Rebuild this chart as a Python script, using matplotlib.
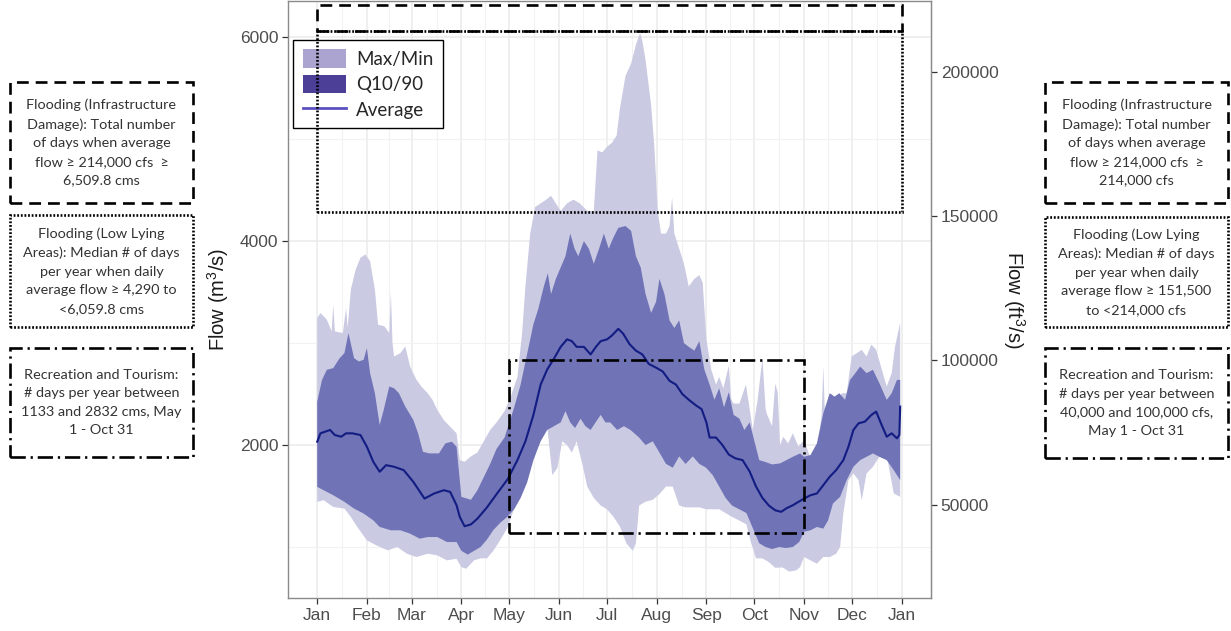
import numpy as np
import matplotlib
matplotlib.use("Agg")
import matplotlib.pyplot as plt
from matplotlib.patches import Rectangle, Patch
from matplotlib.lines import Line2D

# ---------------- data (day of year, flow in m3/s) ----------------
avg_day = [0, 2, 8, 11, 15, 18, 22, 27, 31, 35, 39, 43, 48, 54, 60, 67, 73, 79, 83, 87,
           89, 92, 96, 100, 106, 112, 119, 125, 130, 135, 139.5, 143.6, 148, 152, 156, 159,
           162, 166.5, 170.7, 174, 177, 181, 184, 188, 191, 195, 199, 203, 207, 211.6, 215.7,
           220, 224, 228, 232, 236.5, 240, 243, 245, 249, 253, 257, 261, 265.6, 270, 274, 278,
           282, 286, 289.7, 293, 297, 300.5, 304, 308, 312, 316, 320, 324, 328.5, 331.7, 334.8,
           338, 342, 346, 349, 352, 355.6, 358.7, 362, 363.5, 364]
avg_val = [2033, 2115, 2148, 2098, 2082, 2115, 2115, 2098, 1984, 1836, 1738, 1803, 1787, 1754,
           1639, 1475, 1525, 1557, 1541, 1410, 1296, 1204, 1222, 1278, 1389, 1519, 1667, 1852,
           2037, 2296, 2593, 2741, 2852, 2963, 3037, 3019, 2963, 2963, 2889, 2963, 3019, 3037,
           3074, 3140, 3093, 2990, 2926, 2889, 2796, 2759, 2722, 2630, 2593, 2500, 2444, 2389,
           2352, 2222, 2074, 2074, 2000, 1907, 1870, 1852, 1741, 1593, 1481, 1407, 1360, 1345,
           1380, 1410, 1443, 1475, 1508, 1525, 1607, 1689, 1754, 1852, 1984, 2148, 2213, 2230,
           2295, 2328, 2213, 2082, 2115, 2066, 2100, 2377]

max_day = [0, 2, 6, 9, 10, 11, 16, 18, 19, 21, 24, 27, 30, 33, 36, 38, 42, 45, 46, 47, 48, 52,
           55, 58, 62, 65, 69, 72, 75, 79, 83, 87, 89, 92, 96, 100, 104, 108, 112, 117, 121, 125,
           128, 130, 133, 136, 139.5, 143, 146, 149, 152, 156, 160, 164, 168.6, 172.7, 175, 178,
           181, 184, 187, 189, 192.5, 196, 199, 201.6, 203, 205, 208.5, 210.5, 212.6, 214.7,
           217.8, 220, 221.6, 223, 226, 229, 232, 235.5, 238.6, 240.7, 243, 246, 249, 251, 253.6,
           257, 258.5, 260, 263.6, 267.7, 272, 275, 278, 280, 281, 284, 286, 287.5, 289, 291,
           294, 297, 300.5, 304, 307.7, 312, 315, 316, 317, 318, 321, 324, 327.5, 330.6, 333.7,
           337, 340, 343, 346, 349, 352, 355.6, 358.7, 360.8, 364]
max_val = [3246, 3295, 3230, 3115, 3377, 3115, 3098, 3344, 3150, 3525, 3721, 3836, 3869, 3803,
           3525, 3180, 3164, 3098, 3492, 3000, 2869, 2902, 2967, 2770, 2639, 2574, 2508, 2443,
           2344, 2246, 2180, 2115, 1852, 1836, 1889, 1926, 2037, 2148, 2222, 2333, 2481, 2667,
           3111, 3556, 4074, 4333, 4370, 4407, 4444, 4370, 4296, 4370, 4407, 4370, 4296, 4296,
           4889, 4870, 4926, 4963, 5037, 5300, 5620, 5741, 5926, 6040, 5963, 5778, 5333, 4926,
           4296, 4074, 4074, 4148, 4426, 4074, 3926, 3778, 3556, 3630, 3667, 3593, 3037, 2741,
           2593, 2667, 2556, 2778, 2450, 2407, 2407, 2593, 2148, 2444, 2852, 2350, 2296, 2185,
           2600, 2519, 2000, 2082, 2016, 2115, 1984, 2049, 1885, 1918, 2300, 2770, 2300, 2180,
           2508, 2377, 2508, 2508, 2869, 2902, 2934, 2869, 2984, 2934, 2770, 2574, 2705, 2967,
           3197]

q90_day = [0, 3, 6, 10, 14, 17, 19.5, 23, 26, 29, 31, 33, 36, 39, 41.5, 45, 48, 51, 55, 60, 63,
           66, 70, 76, 80, 84, 87, 90, 96, 100, 104, 108, 112, 117, 120, 123, 127, 131, 135, 138,
           141.5, 144, 146, 149, 152, 155, 158, 160.7, 163, 166.5, 169.6, 172.7, 176, 179, 182,
           185, 188, 192.5, 196, 199, 202, 205, 208.5, 211.6, 213.7, 216.8, 220, 223, 226, 229,
           232, 235.5, 238.6, 241.7, 245, 248, 251, 254, 257, 260, 263.6, 266.7, 270, 273, 276,
           280, 284, 289, 293, 297, 301.5, 304, 308, 312, 316, 320, 323, 326, 329.6, 332.7, 336,
           339, 343, 347, 351, 355.6, 358.7, 362, 364]
q90_val = [2426, 2639, 2738, 2754, 2852, 2902, 3098, 2852, 2820, 2836, 2951, 2705, 2508, 2197,
           2344, 2574, 2557, 2508, 2377, 2246, 2115, 1934, 1918, 1918, 2016, 2033, 1984, 1492,
           1463, 1556, 1685, 1815, 1963, 2074, 2222, 2370, 2593, 2889, 3185, 3333, 3556, 3685,
           3481, 3630, 3741, 3852, 4074, 3926, 3852, 4000, 3926, 3778, 3926, 4074, 3926, 4037,
           4130, 4148, 4100, 3852, 3741, 3481, 3296, 3407, 3630, 3481, 3222, 3148, 3222, 3000,
           2963, 2926, 3019, 2741, 2593, 2444, 2556, 2370, 2519, 2296, 2259, 2148, 2222, 2037,
           1852, 1833, 1810, 1820, 1852, 1885, 1918, 1885, 1902, 2016, 2311, 2508, 2475, 2508,
           2443, 2639, 2705, 2770, 2705, 2738, 2607, 2443, 2508, 2639, 2639]

q10_day = [0, 4, 10, 17, 23, 29, 35, 39, 46, 52, 58, 64, 69, 75, 81, 87, 90, 94, 98, 102, 106,
           110, 114.5, 118.7, 123, 127, 131, 135, 139.5, 143.6, 147.8, 152, 155, 158, 161, 164.4,
           167.5, 170.7, 173.8, 177, 180, 183, 187.3, 191.5, 195.6, 201, 205, 209.5, 213.7, 217.8,
           222, 226, 230, 234.5, 238.6, 242.8, 247, 251, 255, 259, 263.6, 268, 272, 276, 280, 284,
           288.5, 292.7, 297, 301, 304, 308, 312, 316, 319, 322, 326.5, 330.6, 334.8, 339, 343,
           347, 351, 355.6, 360, 364]
q10_val = [1590, 1557, 1508, 1443, 1377, 1328, 1262, 1197, 1164, 1164, 1131, 1082, 1098, 1098,
           1049, 1049, 963, 926, 963, 1000, 1074, 1167, 1241, 1296, 1370, 1481, 1630, 1852, 2037,
           2148, 2185, 2222, 2333, 2222, 2167, 2259, 2185, 2148, 2222, 2296, 2222, 2222, 2148,
           2185, 2148, 2074, 2000, 2037, 1926, 1815, 1778, 1889, 1815, 1889, 1815, 1778, 1704,
           1593, 1481, 1407, 1370, 1333, 1185, 1037, 1000, 980, 1000, 990, 1000, 1050, 1150, 1164,
           1197, 1180, 1262, 1426, 1492, 1656, 1787, 1852, 1885, 1918, 1885, 1852, 1754, 1656]

min_day = [0, 4, 10, 17, 21, 25, 31, 37, 44, 50, 56, 62, 69, 75, 81, 87, 90, 93, 98, 102, 106,
           110, 114.5, 118.7, 122, 125, 128, 131, 135, 139.5, 143.6, 146.8, 150, 153, 156, 159,
           162, 165.5, 168.6, 172.7, 177, 181, 185, 189, 193, 197, 199, 201, 205, 209.5, 213.7,
           217.8, 222, 226, 230, 234.5, 238.6, 242.8, 247, 251, 255, 259, 263.6, 268, 271, 274,
           278, 282, 286, 290.6, 294.7, 299, 301.5, 304, 308, 312, 316, 320, 324, 326.5, 328.5,
           331.7, 334.8, 338, 340, 343, 347, 351, 355.6, 360, 364]
min_val = [1443, 1459, 1393, 1377, 1295, 1197, 1066, 1016, 967, 1000, 934, 902, 934, 918, 869,
           885, 803, 787, 870, 889, 889, 963, 1074, 1185, 1333, 1481, 1593, 1704, 1889, 2111,
           2185, 1704, 1778, 2037, 2000, 1926, 2037, 1815, 1593, 1481, 1407, 1370, 1296, 1200,
           1037, 963, 1037, 1407, 1444, 1463, 1519, 1593, 1593, 1407, 1389, 1389, 1389, 1370,
           1370, 1370, 1333, 1296, 1259, 1222, 1037, 889, 889, 852, 796, 800, 759, 770, 803, 902,
           869, 836, 902, 902, 934, 1000, 1328, 1656, 1721, 1656, 1459, 1721, 1787, 1885, 1902,
           1525, 1492]

month_days = [0, 31, 59, 90, 120, 151, 181, 212, 243, 273, 304, 334, 365]
month_labels = ["Jan", "Feb", "Mar", "Apr", "May", "Jun", "Jul", "Aug", "Sep", "Oct",
                "Nov", "Dec", "Jan"]
m3_ticks = [2000, 4000, 6000]
m3_minor = [1000, 3000, 5000]
ft3_ticks = [50000, 100000, 150000, 200000]
CFS_PER_CMS = 35.3147

# threshold boxes (m3/s, day of year)
infra_low, infra_high = 6059.8, 6320
low_lying_low, low_lying_high = 4290, 6059.8
rec_low, rec_high = 1133, 2832
rec_start, rec_end = 120, 304
year_start, year_end = 0, 365

left_notes = [
    "Flooding (Infrastructure\nDamage): Total number\nof days when average\nflow \u2265 214,000 cfs  \u2265\n6,509.8 cms",
    "Flooding (Low Lying\nAreas): Median # of days\nper year when daily\naverage flow \u2265 4,290 to\n<6,059.8 cms",
    "Recreation and Tourism:\n# days per year between\n1133 and 2832 cms, May\n1 - Oct 31",
]
right_notes = [
    "Flooding (Infrastructure\nDamage): Total number\nof days when average\nflow \u2265 214,000 cfs  \u2265\n214,000 cfs",
    "Flooding (Low Lying\nAreas): Median # of days\nper year when daily\naverage flow \u2265 151,500\nto <214,000 cfs",
    "Recreation and Tourism:\n# days per year between\n40,000 and 100,000 cfs,\nMay 1 - Oct 31",
]

# ---------------- styling ----------------
W, H, DPI = 1231, 631, 100
plt.rcParams["lines.scale_dashes"] = False
plt.rcParams["mathtext.default"] = "regular"
plt.rcParams["font.family"] = ["Liberation Sans", "DejaVu Sans"]

LIGHT = "#cacae3"
DARK = "#7073b5"
LINE = "#121c82"
LEG_LIGHT = "#aba4d0"
LEG_DARK = "#4c3f98"
LEG_LINE = "#5b50c0"

DASHED = (0, (8.5, 5.0))
DOTTED = (0, (1.3, 1.3))
DASHDOT = (0, (11, 3.5, 1.6, 3.5))
LS = [DASHED, DOTTED, DASHDOT]

fig = plt.figure(figsize=(W / DPI, H / DPI), dpi=DPI)
fig.patch.set_facecolor("white")

ax = fig.add_axes([288 / W, (H - 598) / H, 643 / W, 597 / H])
ax.set_xlim(-18.25, 383.25)
ax.set_ylim(500, 6355)

# bands
ax.fill(np.r_[max_day, min_day[::-1]], np.r_[max_val, min_val[::-1]],
        color=LIGHT, lw=0, zorder=2)
ax.fill(np.r_[q90_day, q10_day[::-1]], np.r_[q90_val, q10_val[::-1]],
        color=DARK, lw=0, zorder=3)
ax.plot(avg_day, avg_val, color=LINE, lw=1.5, zorder=4)

# threshold rectangles
boxes = [
    (year_start, infra_low, year_end - year_start, infra_high - infra_low, DASHED),
    (year_start, low_lying_low, year_end - year_start, low_lying_high - low_lying_low, DOTTED),
    (rec_start, rec_low, rec_end - rec_start, rec_high - rec_low, DASHDOT),
]
for x0, y0, w, h, ls in boxes:
    ax.add_patch(Rectangle((x0, y0), w, h, fill=False, edgecolor="black",
                           lw=1.9, linestyle=ls, zorder=7))

# axes / grid
mids = [(a + b) / 2 for a, b in zip(month_days[:-1], month_days[1:])]
ax.set_xticks(month_days)
ax.set_xticklabels(month_labels)
ax.set_xticks(mids, minor=True)
ax.set_yticks(m3_ticks)
ax.set_yticks(m3_minor, minor=True)
ax.grid(which="major", color="#ebebeb", lw=1.1)
ax.grid(which="minor", color="#f2f2f2", lw=0.8)
ax.set_axisbelow(True)
for s in ax.spines.values():
    s.set_color("#8a8a8a")
    s.set_linewidth(1.0)
ax.tick_params(which="major", length=4, width=0.9, color="#333333",
               labelsize=12.5, labelcolor="#4d4d4d", pad=3)
ax.tick_params(which="minor", length=0)
ax.set_ylabel("Flow (m$^3$/s)", fontsize=14.5, color="#1a1a1a", labelpad=6)

sec = ax.secondary_yaxis("right", functions=(lambda v: v * CFS_PER_CMS,
                                             lambda v: v / CFS_PER_CMS))
sec.set_yticks(ft3_ticks)
sec.tick_params(length=4, width=0.9, color="#333333", labelsize=12.5,
                labelcolor="#4d4d4d", pad=3)
sec.spines["right"].set_color("#8a8a8a")
sec.set_ylabel("Flow (ft$^3$/s)", fontsize=14.5, color="#1a1a1a", rotation=270,
               labelpad=20)

# legend
handles = [Patch(facecolor=LEG_LIGHT, edgecolor="none"),
           Patch(facecolor=LEG_DARK, edgecolor="none"),
           Line2D([], [], color=LEG_LINE, lw=2)]
leg = ax.legend(handles, ["Max/Min", "Q10/90", "Average"], loc="upper left",
                bbox_to_anchor=(0.008, 0.935), borderaxespad=0, fancybox=False,
                framealpha=1, edgecolor="black", handlelength=2.3, handleheight=1.15,
                handletextpad=0.55, labelspacing=0.36, borderpad=0.5,
                prop={"family": "Lato", "size": 13.5})
leg.get_frame().set_linewidth(1.0)
leg.set_zorder(5)
for t in leg.get_texts():
    t.set_color("#262626")

# side note boxes (figure pixel coordinates)
def px_rect(x0, y0, x1, y1, ls):
    r = Rectangle((x0 / W, 1 - y1 / H), (x1 - x0) / W, (y1 - y0) / H,
                  transform=fig.transFigure, fill=False, edgecolor="black",
                  lw=1.9, linestyle=ls)
    fig.patches.append(r)

left_boxes = [(10, 82, 193, 203), (10, 215, 193, 327), (10, 348, 193, 457)]
right_boxes = [(1045, 82, 1228, 203), (1045, 217, 1228, 327), (1045, 348, 1228, 458)]
for (bx, txt, ls) in zip(left_boxes, left_notes, LS):
    px_rect(*bx, ls)
    fig.text((bx[0] + bx[2]) / 2 / W, 1 - (bx[1] + bx[3]) / 2 / H, txt,
             ha="center", va="center", multialignment="center",
             family="Lato", fontsize=10.4, color="#333333", linespacing=1.66)
for (bx, txt, ls) in zip(right_boxes, right_notes, LS):
    px_rect(*bx, ls)
    fig.text((bx[0] + bx[2]) / 2 / W, 1 - (bx[1] + bx[3]) / 2 / H, txt,
             ha="center", va="center", multialignment="center",
             family="Lato", fontsize=10.4, color="#333333", linespacing=1.66)

fig.savefig("out.png", dpi=DPI, facecolor="white")
